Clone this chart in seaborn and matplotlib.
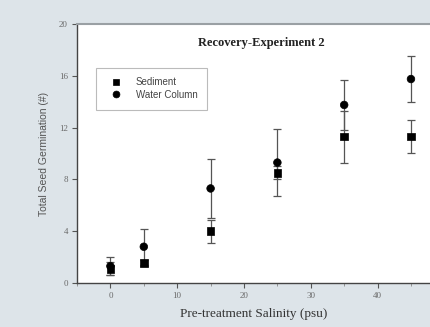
import pandas as pd
import matplotlib.pyplot as plt
import seaborn as sns
from matplotlib.ticker import MultipleLocator

# --- Dados ---
salinity = [0, 5, 15, 25, 35, 45]
sediment = [1.1, 1.55, 4.0, 8.5, 11.3, 11.3]
sediment_err = [0.5, 0.25, 0.9, 0.5, 2.0, 1.25]
water_column = [1.3, 2.8, 7.3, 9.3, 13.75, 15.75]
water_err = [0.7, 1.4, 2.3, 2.6, 1.95, 1.8]
series_names = ['Sediment', 'Water Column']

df = pd.concat([
    pd.DataFrame({'salinity': salinity, 'germ': sediment, 'err': sediment_err,
                  'serie': series_names[0]}),
    pd.DataFrame({'salinity': salinity, 'germ': water_column, 'err': water_err,
                  'serie': series_names[1]}),
])

BG = '#dde4e9'
sns.set_theme(style='ticks')

fig = plt.figure(figsize=(4.31, 3.27), dpi=100, facecolor=BG)
ax = fig.add_axes([0.1787, 0.1346, 0.8213, 0.792])
ax.set_facecolor('white')

# barras de erro primeiro, marcadores por cima
for nome in series_names:
    d = df[df['serie'] == nome]
    ax.errorbar(d['salinity'], d['germ'], yerr=d['err'], fmt='none',
                ecolor='#555555', elinewidth=0.9, capsize=3, capthick=0.9, zorder=2)

sns.scatterplot(data=df, x='salinity', y='germ', style='serie', hue='serie',
                markers={'Sediment': 's', 'Water Column': 'o'},
                palette={'Sediment': 'black', 'Water Column': 'black'},
                s=30, edgecolor='black', linewidth=0.5,
                ax=ax, zorder=3)

ax.set_xlim(-5, 48)
ax.set_ylim(0, 20)
ax.xaxis.set_major_locator(MultipleLocator(10))
ax.xaxis.set_minor_locator(MultipleLocator(5))
ax.yaxis.set_major_locator(MultipleLocator(4))

for s in ['left', 'bottom']:
    ax.spines[s].set_color('#444444')
    ax.spines[s].set_linewidth(1.0)
ax.spines['top'].set_color('#9aa0a4')
ax.spines['top'].set_linewidth(1.5)
ax.spines['right'].set_visible(False)

ax.tick_params(axis='both', which='major', direction='out', length=3.5, width=0.8,
               color='#555555', labelsize=6.5, labelcolor='#6a6a6a', pad=3)
ax.tick_params(axis='x', which='minor', direction='out', length=2.5, width=0.6,
               color='#888888')
for lbl in ax.get_xticklabels() + ax.get_yticklabels():
    lbl.set_family('Liberation Serif')

ax.set_xlabel('Pre-treatment Salinity (psu)', family='Liberation Serif',
              fontsize=9.5, color='#333333', labelpad=6)
ax.set_ylabel('Total Seed Germination (#)', family='Liberation Sans',
              fontsize=7.5, color='#555555', labelpad=7)

ax.text(0.52, 0.925, 'Recovery-Experiment 2', transform=ax.transAxes,
        ha='center', va='center', family='Liberation Serif', fontweight='bold',
        fontsize=9, color='#222222')

leg = ax.legend(loc='upper left', bbox_to_anchor=(0.04, 0.85), frameon=True,
                fancybox=False, edgecolor='#aaaaaa',
                borderpad=1.0, handletextpad=0.9, labelspacing=0.25,
                handlelength=2.2, markerscale=0.9,
                prop={'family': 'Liberation Sans', 'size': 7})
leg.get_frame().set_linewidth(0.8)
for t in leg.get_texts():
    t.set_color('#444444')

fig.savefig('out.png', dpi=100, facecolor=BG)
